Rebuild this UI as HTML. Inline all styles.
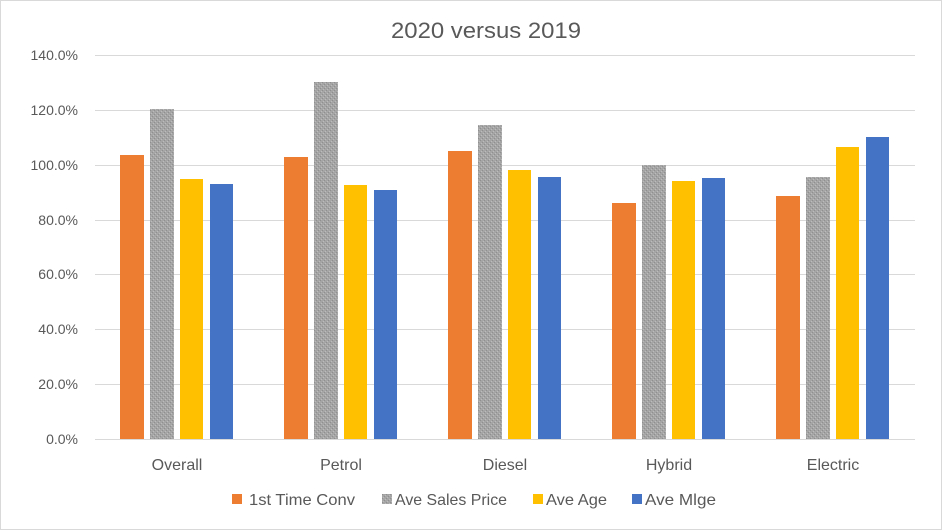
<!DOCTYPE html>
<html><head><meta charset="utf-8"><style>
html,body{margin:0;padding:0;background:#fff}
svg{display:block;font-family:"Liberation Sans",sans-serif}
</style></head><body>
<svg width="942" height="530" viewBox="0 0 942 530">
<defs>
<pattern id="gp" width="4" height="4" patternUnits="userSpaceOnUse">
<rect width="4" height="4" fill="#a5a5a5"/>
<rect x="0" y="0" width="1" height="1" fill="#8f8f8f"/>
<rect x="2" y="2" width="1" height="1" fill="#8f8f8f"/>
<rect x="1" y="3" width="1" height="1" fill="#bcbcbc"/>
<rect x="3" y="1" width="1" height="1" fill="#bcbcbc"/>
</pattern>
</defs>
<rect x="0.5" y="0.5" width="941" height="529" fill="#fff" stroke="#d9d9d9"/>
<text x="486" y="38" font-size="22" fill="#595959" text-anchor="middle" textLength="190" lengthAdjust="spacingAndGlyphs">2020 versus 2019</text>
<g stroke="#d9d9d9" stroke-width="1">
<line x1="95" x2="915" y1="55.5" y2="55.5"/>
<line x1="95" x2="915" y1="110.5" y2="110.5"/>
<line x1="95" x2="915" y1="165.5" y2="165.5"/>
<line x1="95" x2="915" y1="220.5" y2="220.5"/>
<line x1="95" x2="915" y1="274.5" y2="274.5"/>
<line x1="95" x2="915" y1="329.5" y2="329.5"/>
<line x1="95" x2="915" y1="384.5" y2="384.5"/>
</g>
<g font-size="14" fill="#595959" text-anchor="end">
<text x="78" y="60">140.0%</text>
<text x="78" y="115">120.0%</text>
<text x="78" y="170">100.0%</text>
<text x="78" y="225">80.0%</text>
<text x="78" y="279">60.0%</text>
<text x="78" y="334">40.0%</text>
<text x="78" y="389">20.0%</text>
<text x="78" y="444">0.0%</text>
</g>
<g>
<rect x="120" y="155" width="24" height="284" fill="#ed7d31"/>
<rect x="150" y="109" width="24" height="330" fill="url(#gp)"/>
<rect x="180" y="179" width="23" height="260" fill="#ffc000"/>
<rect x="210" y="184" width="23" height="255" fill="#4472c4"/>

<rect x="284" y="157" width="24" height="282" fill="#ed7d31"/>
<rect x="314" y="82" width="24" height="357" fill="url(#gp)"/>
<rect x="344" y="185" width="23" height="254" fill="#ffc000"/>
<rect x="374" y="190" width="23" height="249" fill="#4472c4"/>

<rect x="448" y="151" width="24" height="288" fill="#ed7d31"/>
<rect x="478" y="125" width="24" height="314" fill="url(#gp)"/>
<rect x="508" y="170" width="23" height="269" fill="#ffc000"/>
<rect x="538" y="177" width="23" height="262" fill="#4472c4"/>

<rect x="612" y="203" width="24" height="236" fill="#ed7d31"/>
<rect x="642" y="165" width="24" height="274" fill="url(#gp)"/>
<rect x="672" y="181" width="23" height="258" fill="#ffc000"/>
<rect x="702" y="178" width="23" height="261" fill="#4472c4"/>

<rect x="776" y="196" width="24" height="243" fill="#ed7d31"/>
<rect x="806" y="177" width="24" height="262" fill="url(#gp)"/>
<rect x="836" y="147" width="23" height="292" fill="#ffc000"/>
<rect x="866" y="137" width="23" height="302" fill="#4472c4"/>
</g>
<line x1="95" x2="915" y1="439.5" y2="439.5" stroke="#d9d9d9"/>
<g font-size="16" fill="#595959" text-anchor="middle">
<text x="177" y="470">Overall</text>
<text x="341" y="470">Petrol</text>
<text x="505" y="470">Diesel</text>
<text x="669" y="470">Hybrid</text>
<text x="833" y="470">Electric</text>
</g>
<g font-size="16" fill="#595959">
<rect x="232" y="494" width="10" height="10" fill="#ed7d31"/>
<text x="249" y="505" textLength="106" lengthAdjust="spacingAndGlyphs">1st Time Conv</text>
<rect x="382" y="494" width="10" height="10" fill="url(#gp)"/>
<text x="395" y="505" textLength="112" lengthAdjust="spacingAndGlyphs">Ave Sales Price</text>
<rect x="533" y="494" width="10" height="10" fill="#ffc000"/>
<text x="546" y="505" textLength="61" lengthAdjust="spacingAndGlyphs">Ave Age</text>
<rect x="632" y="494" width="10" height="10" fill="#4472c4"/>
<text x="645" y="505" textLength="71" lengthAdjust="spacingAndGlyphs">Ave Mlge</text>
</g>
</svg>
</body></html>
